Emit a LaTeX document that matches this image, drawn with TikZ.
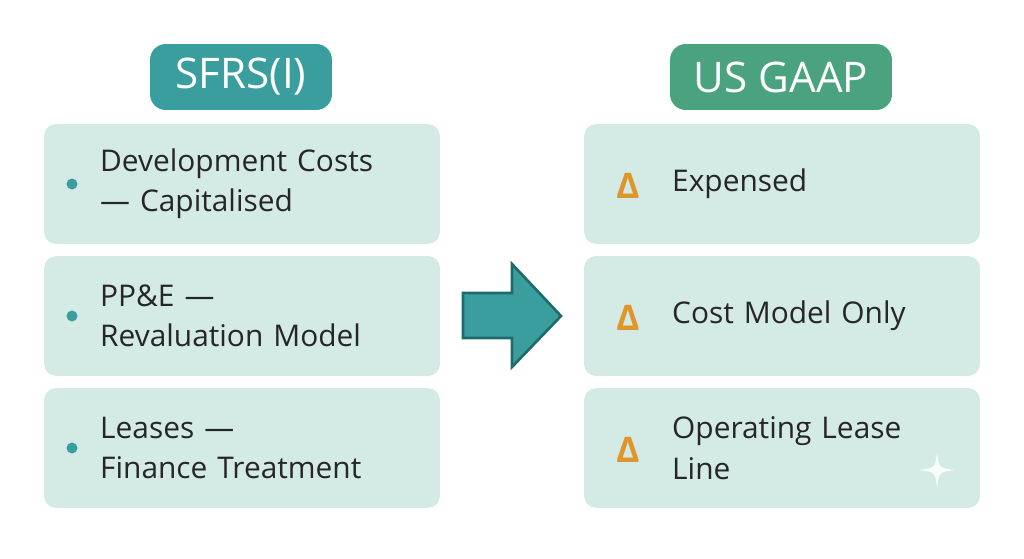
\documentclass[tikz,border=0pt]{standalone}
\usepackage{fontspec}
\setmainfont{Open Sans}
\usepackage{xcolor}
\usetikzlibrary{shapes,arrows,positioning}
\definecolor{tealhead}{HTML}{3A9E9E}
\definecolor{greenhead}{HTML}{4AA37E}
\definecolor{boxfill}{HTML}{D3EAE5}
\definecolor{arrowline}{HTML}{1F6B6B}
\definecolor{deltacol}{HTML}{E0952A}

\begin{document}
\begin{tikzpicture}[
    x=0.02cm, y=-0.02cm,
    head/.style={rectangle, rounded corners=9pt, minimum width=#1, minimum height=1.32cm, text=white, font=\fontsize{24}{28}\selectfont},
    card/.style={rectangle, rounded corners=7pt, fill=boxfill, minimum width=7.92cm, minimum height=2.4cm},
    label/.style={anchor=west, text width=6.4cm, align=left, font=\fontsize{17}{23}\selectfont, text=black!85},
    dot/.style={circle, fill=tealhead, inner sep=0pt, minimum size=0.22cm},
    delta/.style={anchor=center, text=deltacol, font=\fontsize{20}{24}\selectfont\bfseries}
]
\useasboundingbox (0,0) rectangle (1024,558);

\node[head=3.64cm, fill=tealhead] (sfrs) at (241,77) {SFRS(I)};
\node[head=4.44cm, fill=greenhead] (gaap) at (781,77) {US GAAP};

% left column
\node[card] (l1) at (242,184) {};
\node[card] (l2) at (242,316) {};
\node[card] (l3) at (242,448) {};
\node[dot] at (72,184) {};
\node[dot] at (72,316) {};
\node[dot] at (72,448) {};
\node[label] at (94,184) {Development Costs\\— Capitalised};
\node[label] at (94,316) {PP\&E —\\Revaluation Model};
\node[label] at (94,448) {Leases —\\Finance Treatment};

% right column
\node[card] (r1) at (782,184) {};
\node[card] (r2) at (782,316) {};
\node[card] (r3) at (782,448) {};
\node[delta] at (628,186) {Δ};
\node[delta] at (628,318) {Δ};
\node[delta] at (628,450) {Δ};
\node[label] at (666,184) {Expensed};
\node[label] at (666,316) {Cost Model Only};
\node[label] at (666,448) {Operating Lease\\Line};

% arrow
\draw[fill=tealhead, draw=arrowline, line width=1.5pt, line join=miter]
  (463,293) -- (512,293) -- (512,264) -- (561,316) -- (512,367) -- (512,338) -- (463,338) -- cycle;

% sparkle
\fill[white!85!boxfill] (937,452) .. controls (939,468) .. (955,470) .. controls (939,472) .. (937,488) .. controls (935,472) .. (919,470) .. controls (935,468) .. (937,452);
\end{tikzpicture}
\end{document}
